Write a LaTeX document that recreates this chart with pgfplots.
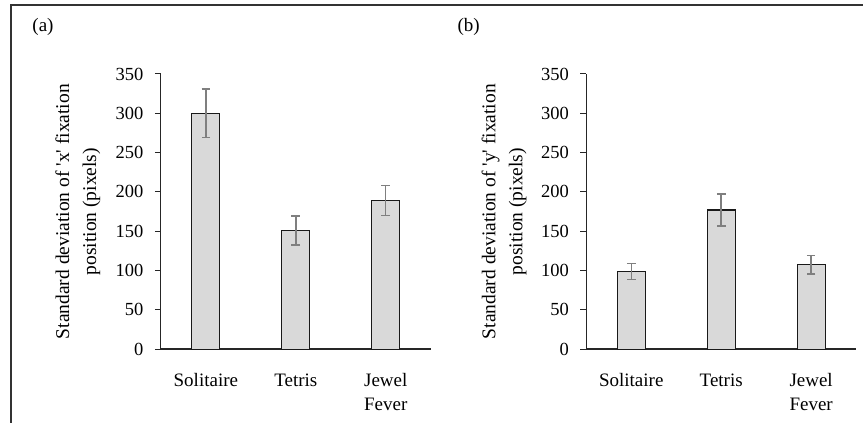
\documentclass[border=0pt]{standalone}
\usepackage{fontspec}
\setmainfont{Liberation Serif}
\usepackage{pgfplots}
\pgfplotsset{compat=1.18}
\definecolor{barfill}{HTML}{D9D9D9}
\definecolor{errcol}{HTML}{7F7F7F}
\definecolor{framecol}{HTML}{333333}
\pgfplotsset{
  panel/.style={
    scale only axis,
    width=270pt, height=275.5pt,
    anchor=south west,
    xmin=-0.5, xmax=2.5,
    ymin=0, ymax=350,
    ytick={0,50,...,350},
    xtick={0,1,2},
    xticklabels={Solitaire,Tetris,{Jewel\\Fever}},
    xticklabel style={align=center, font=\fontsize{19}{23.5}\selectfont, yshift=-15pt},
    yticklabel style={font=\fontsize{18.5}{22}\selectfont, xshift=-8pt},
    /pgf/number format/assume math mode=true,
    axis x line*=bottom,
    axis y line*=left,
    x axis line style={line width=1.6pt, draw=black!85, -},
    y axis line style={line width=0.9pt, draw=black!85, -},
    major x tick style={draw=none},
    major y tick style={line width=0.9pt, draw=black!85},
    tick align=outside,
    major tick length=6pt,
    ylabel style={font=\fontsize{19.5}{27}\selectfont, align=center, anchor=center},
    ybar, bar width=28pt,
    clip=false,
  },
  bars/.style={
    fill=barfill, draw=black!90, line width=1.2pt,
    error bars/.cd, y dir=both, y explicit,
    error bar style={errcol, line width=1.5pt},
    error mark options={rotate=90, mark size=4.3pt, errcol, line width=1.5pt},
  },
}
\begin{document}
\begin{tikzpicture}
\path (0pt,0pt) rectangle (864pt,423pt);
\draw[framecol, line width=1.2pt] (11pt,0pt) -- (11pt,418pt) -- (864pt,418pt);
\node[font=\fontsize{19}{23}\selectfont] at (43pt,396pt) {(a)};
\node[font=\fontsize{19}{23}\selectfont] at (469pt,396pt) {(b)};

\begin{axis}[panel, at={(161pt,73.5pt)},
  ylabel={Standard deviation of \textquotesingle x\textquotesingle\ fixation\\position (pixels)},
  ylabel style={at={(axis description cs:-0.308,0.5)}}]
\addplot[bars] coordinates {
  (0,300) +- (0,31)
  (1,151) +- (0,18.5)
  (2,189) +- (0,19)
};
\end{axis}

\begin{axis}[panel, at={(586.7pt,73.5pt)},
  ylabel={Standard deviation of \textquotesingle y\textquotesingle\ fixation\\position (pixels)},
  ylabel style={at={(axis description cs:-0.305,0.5)}}]
\addplot[bars] coordinates {
  (0,99) +- (0,10)
  (1,177) +- (0,20.5)
  (2,107.5) +- (0,12)
};
\end{axis}
\end{tikzpicture}
\end{document}
